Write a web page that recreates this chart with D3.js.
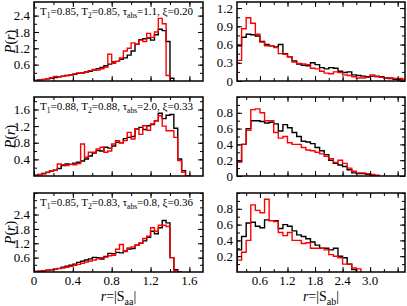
<!DOCTYPE html>
<html>
<head>
<meta charset="utf-8">
<script src="https://cdn.jsdelivr.net/npm/d3@7"></script>
<style>
body { margin: 0; background: #fff; }
text { font-family: "Liberation Serif", "Times New Roman", serif; }
</style>
</head>
<body>
<svg id="chart" width="407" height="306"></svg>
<script>
// bin edges (r values)
const aaEdges = [0, 0.04, 0.08, 0.12, 0.16, 0.2, 0.24, 0.28, 0.32, 0.36, 0.4, 0.44, 0.48, 0.52, 0.56, 0.6,
  0.64, 0.68, 0.72, 0.76, 0.8, 0.84, 0.88, 0.92, 0.96, 1.0, 1.04, 1.08, 1.12, 1.16, 1.2, 1.24, 1.28,
  1.32, 1.36, 1.4, 1.44, 1.48, 1.52, 1.56, 1.6];
const abEdges = [0.1, 0.2, 0.3, 0.4, 0.5, 0.6, 0.7, 0.8, 0.9, 1.0, 1.1, 1.2, 1.3, 1.4, 1.5, 1.6, 1.7, 1.8,
  1.9, 2.0, 2.1, 2.2, 2.3, 2.4, 2.5, 2.6, 2.7, 2.8, 2.9, 3.0, 3.1, 3.2, 3.3, 3.4, 3.5, 3.6, 3.7, 3.8];

// row 1 : T1=0.85, T2=0.85
const aaBlack1 = [0.02, 0.04, 0.06, 0.08, 0.1, 0.13, 0.15, 0.18, 0.2, 0.22, 0.25, 0.28, 0.3, 0.33, 0.36, 0.4,
  0.45, 0.5, 0.56, 0.62, 0.7, 0.72, 0.8, 0.85, 0.95, 1.1, 1.35, 1.52, 1.55, 1.58, 1.5, 1.7, 1.9, 1.85, 1.45, 0.1];
const aaRed1 = [0.02, 0.04, 0.05, 0.08, 0.12, 0.17, 0.15, 0.17, 0.2, 0.22, 0.26, 0.3, 0.28, 0.32, 0.38, 0.42,
  0.4, 0.45, 0.5, 0.98, 0.65, 0.72, 0.85, 1.1, 1.2, 1.4, 1.35, 1.5, 1.45, 1.75, 1.6, 1.8, 2.3, 2.1, 0.2, 0];
const abBlack1 = [0.58, 0.72, 0.77, 0.76, 0.74, 0.65, 0.6, 0.58, 0.56, 0.6, 0.45, 0.4, 0.33, 0.28, 0.26, 0.25,
  0.3, 0.27, 0.22, 0.2, 0.22, 0.21, 0.16, 0.14, 0.15, 0.1, 0.09, 0.08, 0.07, 0.08, 0.08, 0.07, 0.05, 0.04,
  0.03, 0.02, 0.02];
const abRed1 = [0.34, 0.86, 1.04, 0.95, 0.77, 0.64, 0.58, 0.58, 0.55, 0.45, 0.44, 0.4, 0.31, 0.29, 0.28, 0.27,
  0.21, 0.2, 0.16, 0.13, 0.12, 0.15, 0.14, 0.1, 0.09, 0.07, 0.05, 0.05, 0.06, 0.1, 0.07, 0.06, 0.05, 0.05,
  0.04, 0.04, 0.03];

// row 2 : T1=0.88, T2=0.88
const aaBlack2 = [0.02, 0.04, 0.06, 0.09, 0.12, 0.14, 0.18, 0.25, 0.29, 0.28, 0.31, 0.33, 0.36, 0.41, 0.48, 0.55,
  0.61, 0.6, 0.69, 0.67, 0.72, 0.81, 0.8, 0.9, 0.93, 0.95, 1.13, 1.17, 1.12, 1.21, 1.24, 1.33, 1.51, 1.38,
  1.46, 1.48, 1.15, 0.41, 0.13, 0];
const aaRed2 = [0.01, 0.03, 0.05, 0.08, 0.12, 0.14, 0.29, 0.27, 0.25, 0.28, 0.27, 0.3, 0.77, 0.45, 0.57, 0.57,
  0.65, 0.69, 0.57, 0.6, 0.77, 0.85, 0.8, 0.85, 1.05, 0.89, 1.13, 1.0, 1.21, 1.1, 1.25, 1.33, 1.45, 1.2,
  1.09, 1.09, 0.93, 0.37, 0.09, 0];
const abBlack2 = [0.18, 0.4, 0.6, 0.7, 0.7, 0.69, 0.67, 0.68, 0.66, 0.57, 0.65, 0.61, 0.55, 0.5, 0.44, 0.43,
  0.41, 0.36, 0.32, 0.27, 0.2, 0.16, 0.14, 0.12, 0.08, 0.04, 0.03, 0.03, 0.02, 0.01];
const abRed2 = [0.18, 0.4, 0.58, 0.84, 0.85, 0.8, 0.7, 0.7, 0.55, 0.48, 0.5, 0.42, 0.4, 0.4, 0.36, 0.33,
  0.32, 0.3, 0.28, 0.25, 0.22, 0.17, 0.2, 0.16, 0.1, 0.06, 0.04, 0.04, 0.03, 0.02, 0.01];

// row 3 : T1=0.85, T2=0.83
const aaBlack3 = [0.02, 0.03, 0.05, 0.07, 0.09, 0.12, 0.15, 0.2, 0.24, 0.28, 0.33, 0.4, 0.45, 0.5, 0.55, 0.61,
  0.6, 0.54, 0.65, 0.78, 0.76, 0.82, 0.8, 0.88, 0.96, 0.98, 1.12, 1.2, 1.3, 1.45, 1.7, 1.6, 1.85, 2.15,
  2.05, 0.6, 0.1, 0];
const aaRed3 = [0.02, 0.03, 0.04, 0.06, 0.1, 0.12, 0.14, 0.17, 0.2, 0.24, 0.28, 0.32, 0.36, 0.42, 0.46, 0.5,
  0.55, 0.6, 0.62, 0.68, 0.7, 0.95, 1.15, 0.85, 1.0, 1.05, 1.12, 1.2, 1.4, 1.5, 1.85, 1.7, 1.95, 1.95,
  1.9, 0.6, 0.05, 0];
const abBlack3 = [0.28, 0.45, 0.62, 0.63, 0.58, 0.56, 0.66, 0.65, 0.65, 0.55, 0.6, 0.58, 0.52, 0.47, 0.45, 0.42,
  0.38, 0.34, 0.3, 0.3, 0.28, 0.3, 0.2, 0.18, 0.1, 0.03];
const abRed3 = [0.15, 0.25, 0.4, 0.85, 0.78, 0.75, 0.92, 0.65, 0.64, 0.5, 0.46, 0.5, 0.4, 0.4, 0.36, 0.37,
  0.3, 0.3, 0.3, 0.28, 0.22, 0.2, 0.18, 0.1, 0.1, 0.05, 0.04];

// annotation values: T1, T2, tau_abs, xi
const notes = [["0.85", "0.85", "1.1", "0.20"], ["0.88", "0.88", "2.0", "0.33"], ["0.85", "0.83", "0.8", "0.36"]];

// axis ticks
const aaTicks = [0, 0.4, 0.8, 1.2, 1.6];
const abTicks = [0.6, 1.2, 1.8, 2.4, 3.0];
const yTicksL = [[0.6, 1.2, 1.8, 2.4], [0.4, 0.8, 1.2, 1.6], [0.6, 1.2, 1.8, 2.4]];
const yTicksR = [[0, 0.3, 0.6, 0.9, 1.2], [0, 0.2, 0.4, 0.6, 0.8], [0.2, 0.4, 0.6, 0.8]];
const yMaxL = [2.9, 1.9, 3.3];
const yMaxR = [1.3, 1.0, 1.0];
const yStepL = [0.3, 0.2, 0.3];
const yStepR = [0.15, 0.1, 0.1];

const svg = d3.select("#chart");
const rowTop = [2, 97, 193];
const panelH = 79;
const colX = [[34, 203], [237, 405]];

const blackL = [aaBlack1, aaBlack2, aaBlack3], redL = [aaRed1, aaRed2, aaRed3];
const blackR = [abBlack1, abBlack2, abBlack3], redR = [abRed1, abRed2, abRed3];

function histPoints(edges, vals) {
  const pts = [[edges[0], 0]];
  vals.forEach((v, i) => pts.push([edges[i], v]));
  pts.push([edges[vals.length], vals[vals.length - 1]]);
  pts.push([edges[vals.length], 0]);
  return pts;
}

function minorTicks(lo, hi, step) {
  const out = [];
  for (let v = lo; v <= hi + 1e-9; v += step) out.push(+v.toFixed(3));
  return out;
}

function drawPanel(row, col) {
  const [x0, x1] = colX[col];
  const y0 = rowTop[row], y1 = rowTop[row] + panelH;
  const isL = col === 0;
  const x = isL ? d3.scaleLinear().domain([0, 1.74]).range([x0, x1])
                : d3.scaleLinear().domain([0.1, 3.76]).range([x0, x1]);
  const y = d3.scaleLinear().domain([0, isL ? yMaxL[row] : yMaxR[row]]).range([y1, y0]);
  const g = svg.append("g");

  const clipId = `clip${row}${col}`;
  g.append("clipPath").attr("id", clipId).append("rect")
    .attr("x", x0).attr("y", y0).attr("width", x1 - x0).attr("height", y1 - y0);

  const line = d3.line().x(d => x(d[0])).y(d => y(d[1])).curve(d3.curveStepAfter);
  const edges = isL ? aaEdges : abEdges;
  const series = [[isL ? blackL[row] : blackR[row], "#000"], [isL ? redL[row] : redR[row], "#ff0000"]];
  series.forEach(([vals, c]) => {
    g.append("path").attr("clip-path", `url(#${clipId})`)
      .attr("d", line(histPoints(edges, vals)))
      .attr("fill", "none").attr("stroke", c).attr("stroke-width", 1.4);
  });

  // ticks on all sides, inward
  const xMajor = isL ? aaTicks : [0.6, 1.2, 1.8, 2.4, 3.0, 3.6];
  const xMinor = isL ? minorTicks(0.2, 1.7, 0.2) : minorTicks(0.3, 3.7, 0.3);
  const yStep = isL ? yStepL[row] : yStepR[row];
  const yMajor = isL ? yTicksL[row] : yTicksR[row];
  const yMinor = minorTicks(yStep, y.domain()[1], yStep);

  const tick = (axis, vals, size, tr) => {
    const a = g.append("g").attr("transform", tr)
      .call(axis.tickValues(vals).tickSize(size).tickFormat(""));
    a.select(".domain").remove();
    a.selectAll("line").attr("stroke", "#000").attr("stroke-width", 1);
  };
  tick(d3.axisBottom(x), xMinor, -3, `translate(0,${y1})`);
  tick(d3.axisBottom(x), xMajor, -5, `translate(0,${y1})`);
  tick(d3.axisTop(x), xMinor, -3, `translate(0,${y0})`);
  tick(d3.axisTop(x), xMajor, -5, `translate(0,${y0})`);
  tick(d3.axisLeft(y), yMinor, -3, `translate(${x0},0)`);
  tick(d3.axisRight(y), yMinor, -3, `translate(${x1},0)`);

  // labelled y ticks
  const ya = g.append("g").attr("transform", `translate(${x0},0)`)
    .call(d3.axisLeft(y).tickValues(yMajor).tickSize(-5).tickPadding(4).tickFormat(d => d === 0 ? "0" : d3.format(".1f")(d)));
  ya.select(".domain").remove();
  ya.selectAll("text").attr("font-size", 13).attr("fill", "#000").attr("font-family", "Liberation Serif");
  const yb = g.append("g").attr("transform", `translate(${x1},0)`)
    .call(d3.axisRight(y).tickValues(yMajor).tickSize(-5).tickFormat(""));
  yb.select(".domain").remove();

  g.append("rect").attr("x", x0).attr("y", y0).attr("width", x1 - x0).attr("height", y1 - y0)
    .attr("fill", "none").attr("stroke", "#000").attr("stroke-width", 1.5);

  // x tick labels in bottom row
  if (row === 2) {
    g.selectAll(".xl").data(isL ? aaTicks : abTicks).enter().append("text")
      .attr("x", d => x(d)).attr("y", y1 + 13).attr("text-anchor", "middle")
      .attr("font-size", 13).text(d => d === 0 ? "0" : d3.format(".1f")(d));
    const lab = g.append("text").attr("x", (x0 + x1) / 2).attr("y", y1 + 29)
      .attr("text-anchor", "middle").attr("font-size", 14);
    lab.append("tspan").attr("font-style", "italic").text("r");
    lab.append("tspan").text("=|S");
    lab.append("tspan").attr("font-size", 10).attr("dy", 4).text(isL ? "aa" : "ab");
    lab.append("tspan").attr("dy", -4).text("|");
  }

  if (isL) {
    // P(r) label
    const p = g.append("text")
      .attr("transform", `translate(15,${(y0 + y1) / 2}) rotate(-90)`)
      .attr("text-anchor", "middle").attr("font-size", 14);
    p.append("tspan").attr("font-style", "italic").text("P");
    p.append("tspan").text("(");
    p.append("tspan").attr("font-style", "italic").text("r");
    p.append("tspan").text(")");

    // parameter annotation
    const n = notes[row];
    const t = g.append("text").attr("x", x0 + 6).attr("y", y0 + 13).attr("font-size", 11);
    t.append("tspan").text("T");
    t.append("tspan").attr("font-size", 7.5).attr("dy", 3).text("1");
    t.append("tspan").attr("dy", -3).text(`=${n[0]}, T`);
    t.append("tspan").attr("font-size", 7.5).attr("dy", 3).text("2");
    t.append("tspan").attr("dy", -3).text(`=${n[1]}, τ`);
    t.append("tspan").attr("font-size", 7.5).attr("dy", 3).text("abs");
    t.append("tspan").attr("dy", -3).text(`=${n[2]}, ξ=${n[3]}`);
  }
}

for (let r = 0; r < 3; r++) { drawPanel(r, 0); drawPanel(r, 1); }
</script>
</body>
</html>
